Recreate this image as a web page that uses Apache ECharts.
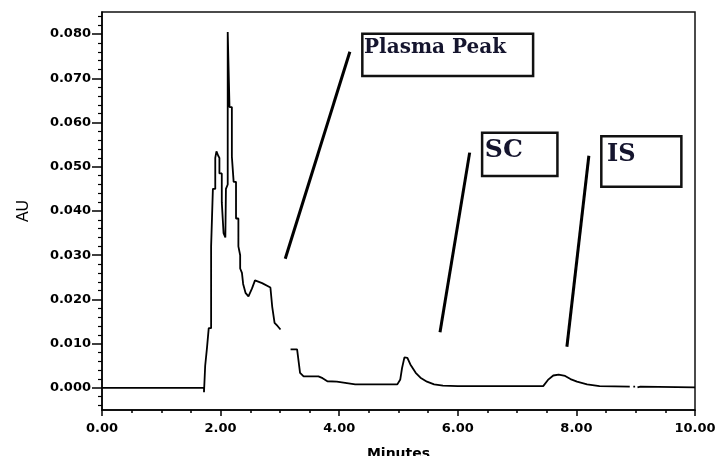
<!DOCTYPE html>
<html>
<head>
<meta charset="utf-8">
<script src="https://cdn.jsdelivr.net/npm/echarts@6.0.0/dist/echarts.min.js"></script>
<style>
html,body{margin:0;padding:0;background:#fff;}
#chart{width:719px;height:456px;}
</style>
</head>
<body>
<div id="chart"></div>
<script>
// Chromatogram trace (minutes, AU); null marks a break in the trace
const minutes = [0.00,1.72,1.72,1.74,1.74,1.77,1.77,1.80,1.80,1.84,1.84,1.87,1.87,1.91,1.91,1.93,1.96,1.98,1.98,2.02,2.02,2.05,2.05,2.08,2.09,2.09,2.12,2.12,2.15,2.15,2.19,2.19,2.22,2.22,2.26,2.26,2.30,2.30,2.33,2.33,2.36,2.38,2.42,2.47,2.53,2.58,2.70,2.84,2.87,2.91,2.96,3.01,3.10,3.18,3.29,3.34,3.40,3.65,3.72,3.80,3.96,4.27,4.98,5.03,5.06,5.10,5.15,5.20,5.29,5.37,5.48,5.60,5.75,6.00,7.44,7.52,7.61,7.70,7.81,7.90,8.01,8.18,8.39,8.90,8.93,8.96,8.99,9.01,9.03,9.08,9.10,10.00];
const absorbance = [0.0000,0.0000,-0.0010,-0.0010,0.0050,0.0050,0.0090,0.0090,0.0135,0.0135,0.0320,0.0320,0.0450,0.0450,0.0520,0.0535,0.0525,0.0520,0.0485,0.0485,0.0420,0.0420,0.0350,0.0340,0.0340,0.0450,0.0460,0.0805,0.0805,0.0635,0.0635,0.0523,0.0523,0.0466,0.0466,0.0383,0.0383,0.0320,0.0300,0.0270,0.0260,0.0235,0.0215,0.0207,0.0225,0.0243,0.0237,0.0227,0.0184,0.0147,0.0140,0.0132,null,0.0087,0.0087,0.0034,0.0026,0.0026,0.0022,0.0015,0.0014,0.0008,0.0008,0.0019,0.0045,0.0069,0.0068,0.0053,0.0034,0.0023,0.0014,0.0008,0.0005,0.0004,0.0004,0.0018,0.0028,0.0030,0.0027,0.0020,0.0014,0.0008,0.0004,0.0003,null,0.0003,0.0003,null,0.0001,0.0003,0.0001,0.0001];

// Axis ticks
const yMajorTicks = [0.000,0.010,0.020,0.030,0.040,0.050,0.060,0.070,0.080];
const yMinorTicks = [-0.004,-0.002,0.002,0.004,0.006,0.008,0.012,0.014,0.016,0.018,0.022,0.024,0.026,0.028,0.032,0.034,0.036,0.038,0.042,0.044,0.046,0.048,0.052,0.054,0.056,0.058,0.062,0.064,0.066,0.068,0.072,0.074,0.076,0.078,0.082,0.084];

// Annotations (data coordinates)
const annoLabels = ['Plasma Peak','SC','IS'];
const annoLineStart = [[3.09,0.0292],[5.70,0.0126],[7.84,0.0093]];
const annoLineEnd   = [[4.18,0.0760],[6.20,0.0532],[8.21,0.0525]];
const annoBoxTopLeft = [[4.39,0.0801],[6.41,0.0577],[8.42,0.0569]];
const annoBoxBottomRight = [[7.27,0.0705],[7.68,0.0479],[9.77,0.0455]];

const labelFont = [20,25,24];
const labelPos = [[3,5],[4,7],[7,8]];

const trace = minutes.map((t,i)=>[t, absorbance[i]]);

const chart = echarts.init(document.getElementById('chart'), null, {renderer:'canvas'});
const tickFont = {fontFamily:'DejaVu Sans', fontWeight:'bold', fontSize:13, color:'#000'};

chart.setOption({
  animation:false,
  backgroundColor:'#fff',
  grid:{left:102,right:24,top:12,bottom:46,show:true,borderColor:'#111',borderWidth:1.5,backgroundColor:'transparent',outerBoundsMode:'none'},
  xAxis:{
    type:'value',min:0,max:10,interval:2,
    name:'Minutes',nameLocation:'middle',nameGap:37,
    nameTextStyle:{fontFamily:'DejaVu Sans',fontWeight:'bold',fontSize:14,color:'#000'},
    axisLine:{show:true,onZero:false,lineStyle:{color:'#000',width:1.5}},
    axisTick:{show:true,inside:false,length:6,lineStyle:{color:'#000',width:1.5}},
    minorTick:{show:true,splitNumber:4,length:3,lineStyle:{color:'#000',width:1.5}},
    splitLine:{show:false},
    axisLabel:Object.assign({margin:12,formatter:v=>v.toFixed(2)},tickFont)
  },
  yAxis:[{
    type:'value',min:-0.005,max:0.085,
    name:'AU',nameLocation:'middle',nameGap:70,nameRotate:90,
    nameTextStyle:{fontFamily:'Liberation Sans',fontSize:16,color:'#000'},
    axisLine:{show:true,onZero:false,lineStyle:{color:'#000',width:1.5}},
    axisTick:{show:true,inside:false,length:10,customValues:yMajorTicks,lineStyle:{color:'#000',width:1.5}},
    splitLine:{show:false},
    axisLabel:Object.assign({margin:11,customValues:yMajorTicks,formatter:v=>v.toFixed(3)},tickFont)
  },{
    type:'value',min:-0.005,max:0.085,position:'left',
    axisLine:{show:false},
    axisTick:{show:true,inside:false,length:4,customValues:yMinorTicks,lineStyle:{color:'#000',width:1.2}},
    axisLabel:{show:false},
    splitLine:{show:false}
  }],
  series:[{
    type:'line',
    data:trace,
    showSymbol:false,
    symbol:'none',
    connectNulls:false,
    lineStyle:{color:'#000',width:1.8},
    markLine:{
      silent:true,symbol:['none','none'],
      label:{show:false},
      lineStyle:{color:'#000',width:3,type:'solid'},
      data:annoLineStart.map((s,i)=>[{coord:s},{coord:annoLineEnd[i]}])
    },
    markArea:{
      silent:true,
      data:annoLabels.map((name,i)=>[
        {coord:annoBoxTopLeft[i],name:name,
         label:{show:true,position:labelPos[i],fontFamily:'DejaVu Serif',fontWeight:'bold',fontSize:labelFont[i],color:'#15152e'},
         itemStyle:{color:'rgba(255,255,255,0)',borderColor:'#111',borderWidth:2.5}},
        {coord:annoBoxBottomRight[i]}
      ])
    }
  }]
});
</script>
</body>
</html>
